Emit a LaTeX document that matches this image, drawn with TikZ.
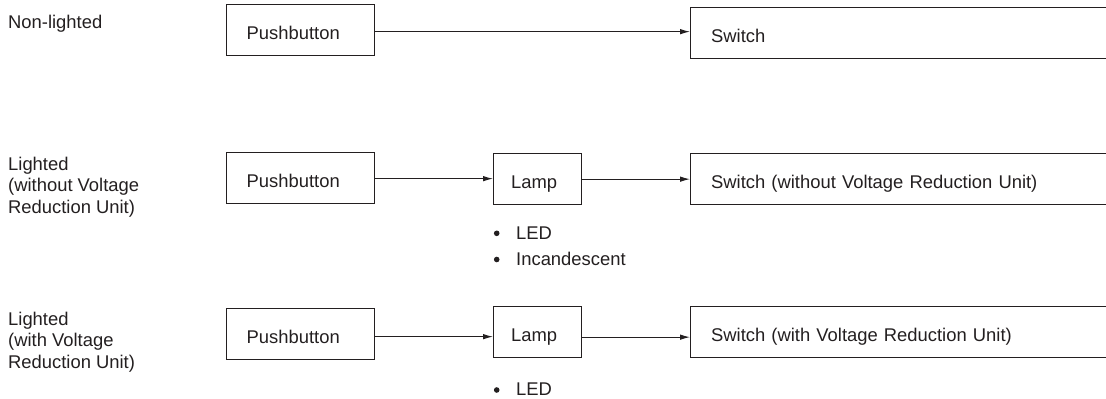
\documentclass[tikz,border=0pt]{standalone}
\usepackage{fontspec}
\setmainfont{Liberation Sans}
\usetikzlibrary{arrows.meta}
\definecolor{ink}{HTML}{231F20}
\newcommand{\diafont}{\fontsize{18.4pt}{21.5pt}\selectfont}
\begin{document}
\begin{tikzpicture}[x=1pt,y=-1pt,
  box/.style={draw=ink, line width=1.3pt, inner ysep=0pt, minimum height=51pt,
    text height=34.5pt, text depth=16.5pt, align=left, anchor=north west,
    text=ink, font=\diafont},
  pbbox/.style={box, inner xsep=20pt, text width=108pt},
  lampbox/.style={box, inner xsep=17.5pt, text width=53pt},
  swbox/.style={box, inner xsep=20.5pt, text width=389pt},
  lbl/.style={anchor=north west, inner sep=0pt, align=left, text=ink, font=\diafont},
  item/.style={anchor=base west, inner sep=0pt, text=ink, font=\diafont},
  dot/.style={circle, fill=ink, inner sep=0pt, minimum size=5.6pt},
  arr/.style={draw=ink, line width=1pt, -{Latex[length=10pt,width=5.5pt]}}
]
\useasboundingbox (0,0) rectangle (1106,399);
\clip (0,0) rectangle (1106,399);

% row labels
\node[lbl] (l1) at (8,15) {Non-lighted};
\node[lbl] (l2) at (8,156.7) {Lighted\\(without Voltage\\Reduction Unit)};
\node[lbl] (l3) at (8,311.7) {Lighted\\(with Voltage\\Reduction Unit)};

% row 1
\node[pbbox] (pb1) at (226,4) {Pushbutton};
\node[swbox] (sw1) at (690,7) {Switch};
\draw[arr] ([yshift=-1.5pt]pb1.east) -- ([yshift=-1.5pt]pb1.east -| sw1.west);

% row 2
\node[pbbox] (pb2) at (226,152) {Pushbutton};
\node[lampbox] (lp2) at (493,153) {Lamp};
\node[swbox] (sw2) at (690,153) {Switch (without Voltage Reduction Unit)};
\draw[arr] ([yshift=-0.5pt]pb2.east) -- ([yshift=-0.5pt]pb2.east -| lp2.west);
\draw[arr] (lp2.east) -- (lp2.east -| sw2.west);
\node[dot] (d21) at (496.7,233.3) {};
\node[item] (t21) at (516,239) {LED};
\node[dot] (d22) at (496.7,259.5) {};
\node[item] (t22) at (516,265) {Incandescent};

% row 3
\node[pbbox] (pb3) at (226,308) {Pushbutton};
\node[lampbox] (lp3) at (493,306) {Lamp};
\node[swbox] (sw3) at (690,306) {Switch (with Voltage Reduction Unit)};
\draw[arr] ([yshift=-2.5pt]pb3.east) -- ([yshift=-2.5pt]pb3.east -| lp3.west);
\draw[arr] ([yshift=-5pt]lp3.east) -- ([yshift=-5pt]lp3.east -| sw3.west);
\node[dot] (d31) at (496.7,390) {};
\node[item] (t31) at (516,395) {LED};
\end{tikzpicture}
\end{document}
